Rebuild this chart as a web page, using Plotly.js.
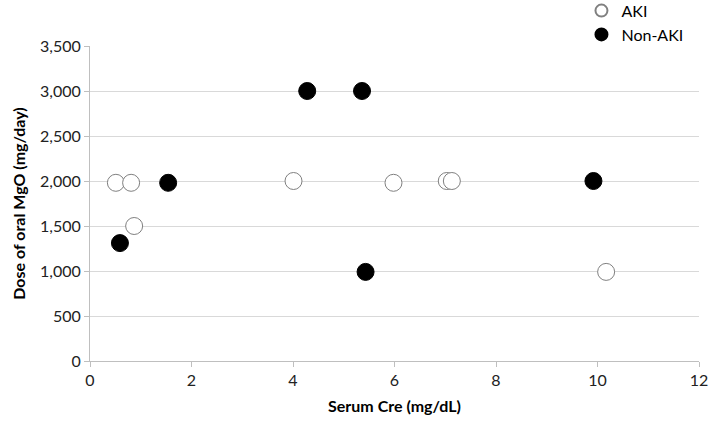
<!DOCTYPE html>
<html>
<head>
<meta charset="utf-8">
<script src="https://cdn.plot.ly/plotly-3.0.1.min.js"></script>
<style>
  body { margin: 0; background: #fff; }
  #chart { width: 709px; height: 424px; }
</style>
</head>
<body>
<div id="chart"></div>
<script>
// serum creatinine (mg/dL) vs oral MgO dose (mg/day)
const akiCre = [0.51, 0.81, 0.87, 4.01, 5.98, 7.03, 7.13, 10.17];
const akiDose = [1980, 1980, 1500, 2000, 1980, 2000, 2000, 990];

const nonAkiCre = [1.54, 0.59, 4.28, 5.36, 5.43, 9.92];
const nonAkiDose = [1980, 1310, 3000, 3000, 990, 2000];

const xTicks = [0, 2, 4, 6, 8, 10, 12];
const yTicks = [0, 500, 1000, 1500, 2000, 2500, 3000, 3500];

const fontFamily = 'Lato, "Open Sans", sans-serif';

const traceAki = {
    x: akiCre,
    y: akiDose,
    type: 'scatter',
    mode: 'markers',
    name: 'AKI',
    marker: {
        size: 17,
        color: '#ffffff',
        line: { color: '#808080', width: 1 }
    }
};

const traceNonAki = {
    x: nonAkiCre,
    y: nonAkiDose,
    type: 'scatter',
    mode: 'markers',
    name: 'Non-AKI',
    marker: {
        size: 17,
        color: '#000000',
        line: { color: '#000000', width: 1 }
    }
};

const layout = {
    width: 709,
    height: 424,
    margin: { l: 90, r: 10, t: 46, b: 63, autoexpand: false },
    paper_bgcolor: '#ffffff',
    plot_bgcolor: '#ffffff',
    font: { family: fontFamily, size: 15, color: '#222222' },
    showlegend: true,
    legend: {
        x: 0.807,
        y: 1.166,
        xanchor: 'left',
        yanchor: 'top',
        font: { family: fontFamily, size: 16, color: '#000000' },
        itemwidth: 30,
        itemsizing: 'constant',
        tracegroupgap: 0,
        bgcolor: 'rgba(0,0,0,0)'
    },
    xaxis: {
        title: { text: 'Serum Cre (mg/dL)', font: { family: fontFamily, size: 16, color: '#000000', weight: 'bold' }, standoff: 12 },
        range: [0, 12],
        tickvals: xTicks,
        showgrid: false,
        zeroline: false,
        showline: true,
        linecolor: '#bfbfbf',
        linewidth: 1,
        ticks: 'outside',
        ticklen: 5,
        tickcolor: '#bfbfbf',
        ticklabeloverflow: 'allow',
        tickfont: { size: 16, color: '#222222' }
    },
    yaxis: {
        title: { text: 'Dose of oral MgO (mg/day)', font: { family: fontFamily, size: 16, color: '#000000', weight: 'bold' }, standoff: 10 },
        range: [0, 3500],
        tickvals: yTicks,
        tickformat: ',',
        showgrid: true,
        gridcolor: '#d9d9d9',
        zeroline: false,
        showline: true,
        linecolor: '#bfbfbf',
        linewidth: 1,
        ticks: 'outside',
        ticklen: 5,
        tickcolor: '#bfbfbf',
        tickfont: { size: 16, color: '#222222' }
    }
};

Plotly.newPlot('chart', [traceAki, traceNonAki], layout, { displayModeBar: false });
</script>
</body>
</html>
